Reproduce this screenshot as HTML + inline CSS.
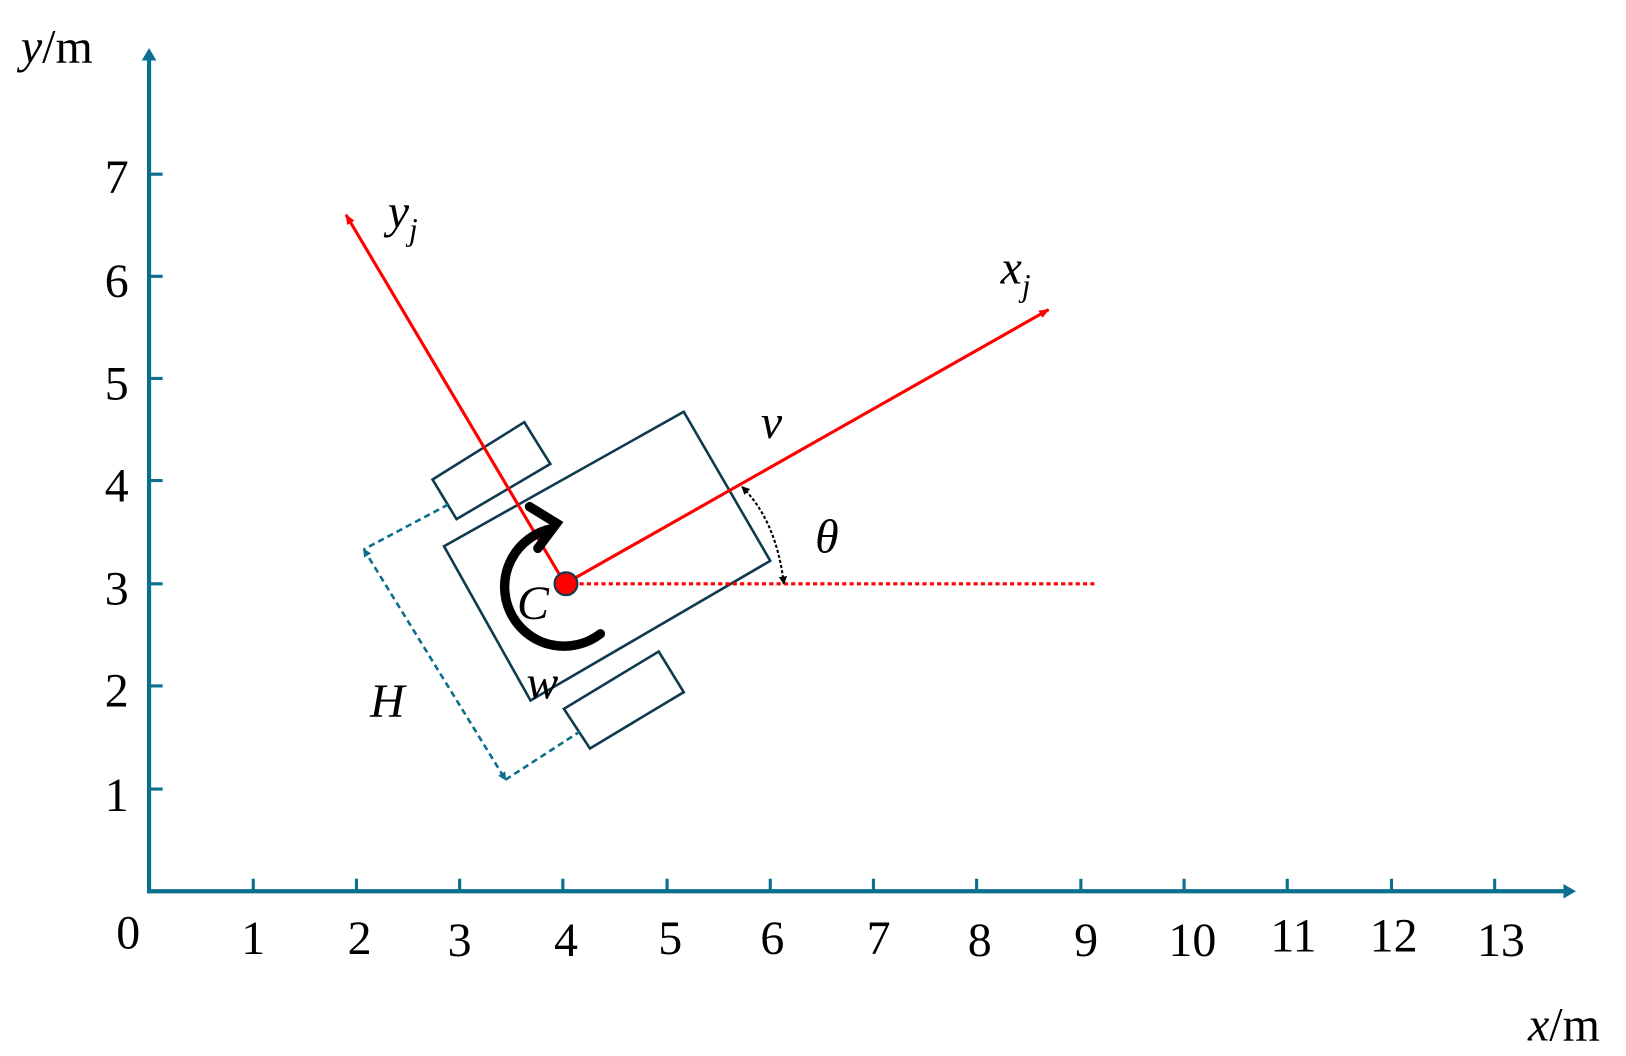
<!DOCTYPE html>
<html><head><meta charset="utf-8"><style>html,body{margin:0;padding:0;background:#fff}svg{display:block}text{font-family:"Liberation Serif",serif;fill:#000}</style></head><body>
<svg width="1626" height="1056" viewBox="0 0 1560 1013" xmlns="http://www.w3.org/2000/svg">
<defs>
<marker id="ar" markerWidth="10" markerHeight="8" refX="9" refY="4" orient="auto" markerUnits="userSpaceOnUse"><path d="M0,0 L10,4 L0,8 Z" fill="#f00"/></marker>
<marker id="ak" markerWidth="8" markerHeight="8" refX="7" refY="4" orient="auto-start-reverse" markerUnits="userSpaceOnUse"><path d="M0,0 L8,4 L0,8 Z" fill="#000"/></marker>
<marker id="ad" markerWidth="8" markerHeight="8" refX="7" refY="4" orient="auto-start-reverse" markerUnits="userSpaceOnUse"><path d="M0,0 L8,4 L0,8 Z" fill="#0b6f8f"/></marker>
</defs>
<g stroke="#0b6f8f" stroke-width="4" fill="none">
<line x1="143" y1="857" x2="143" y2="55"/>
<line x1="141" y1="855" x2="1500" y2="855"/>
<path d="M1500,848 L1512,855 L1500,862 Z M136,58 L143,46 L150,58 Z" fill="#0b6f8f" stroke="none"/>
<g stroke-width="3">
<path d="M243,843V855M342,843V855M441,843V855M540,843V855M640,843V855M739,843V855M838,843V855M937,843V855M1037,843V855M1136,843V855M1235,843V855M1335,843V855M1434,843V855"/>
<path d="M143,757H156M143,658H156M143,560H156M143,461H156M143,363H156M143,265H156M143,167H156"/>
</g></g>
<g font-size="46" text-anchor="middle">
<text x="123" y="910">0</text><text x="243" y="915">1</text><text x="345" y="915">2</text><text x="441" y="917">3</text><text x="543" y="917">4</text><text x="643" y="915">5</text><text x="741" y="915">6</text><text x="843" y="915">7</text><text x="940" y="917">8</text><text x="1042" y="917">9</text><text x="1144" y="917">10</text><text x="1241" y="913">11</text><text x="1337" y="913">12</text><text x="1440" y="917">13</text>
<text x="112" y="778">1</text><text x="112" y="678">2</text><text x="112" y="580">3</text><text x="112" y="481">4</text><text x="112" y="383">5</text><text x="112" y="285">6</text><text x="112" y="185">7</text>
</g>
<text x="20" y="60" font-size="46"><tspan font-style="italic">y</tspan>/m</text>
<text x="1466" y="998" font-size="46"><tspan font-style="italic">x</tspan>/m</text>
<g stroke="#0f3a4f" stroke-width="2.5" fill="none">
<polygon points="426,524 656,395 739,538 509,672"/>
<polygon points="415,460 503,405 528,445 438,498"/>
<polygon points="541,680 632,625 656,664 566,718"/>
</g>
<g stroke="#0b6f8f" stroke-width="2.5" fill="none" stroke-dasharray="6,4">
<polyline points="430,484 349,527"/>
<line x1="349" y1="527" x2="485" y2="748" marker-start="url(#ad)" marker-end="url(#ad)"/>
<polyline points="485,748 556,702"/>
</g>
<line x1="542" y1="560" x2="1050" y2="560" stroke="#f00" stroke-width="3" stroke-dasharray="4,3"/>
<line x1="542" y1="560" x2="332" y2="206" stroke="#f00" stroke-width="3" marker-end="url(#ar)"/>
<line x1="542" y1="560" x2="1006" y2="297" stroke="#f00" stroke-width="3" marker-end="url(#ar)"/>
<path d="M712,467 Q745,500 752,560" stroke="#000" stroke-width="2" fill="none" stroke-dasharray="3,2" marker-start="url(#ak)" marker-end="url(#ak)"/>
<path d="M576,608 A57,57 0 1 1 530,507" stroke="#000" stroke-width="9" fill="none" stroke-linecap="round"/>
<path d="M508,486 L534,502 L516,526" stroke="#000" stroke-width="9" fill="none" stroke-linecap="round"/>
<circle cx="543" cy="560" r="11" fill="#f00" stroke="#0f3a4f" stroke-width="2"/>
<g font-size="46" font-style="italic">
<text x="496" y="594">C</text>
<text x="505" y="670">w</text>
<text x="355" y="688">H</text>
<text x="730" y="420">v</text>
<text x="782" y="530">θ</text>
<text x="960" y="272">x<tspan font-size="30" dy="12">j</tspan></text>
<text x="372" y="218">y<tspan font-size="30" dy="12">j</tspan></text>
</g>
</svg>
</body></html>
